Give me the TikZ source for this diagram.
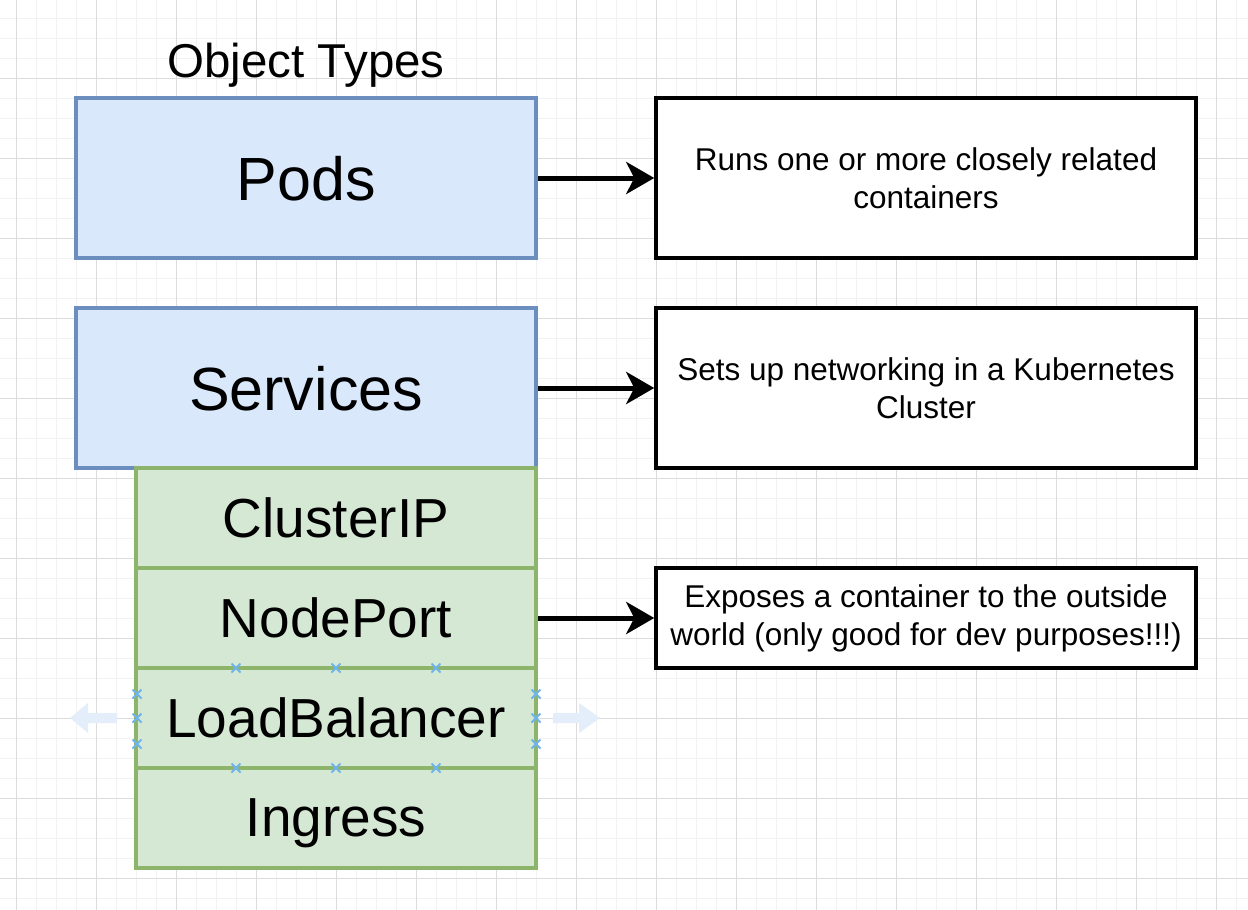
\documentclass[tikz,border=0pt]{standalone}
\usepackage{fontspec}
\setmainfont{Liberation Sans}
\usetikzlibrary{arrows.meta,calc}

\definecolor{gridminor}{HTML}{F2F2F2}
\definecolor{gridmajor}{HTML}{DCDCDC}
\definecolor{bluefill}{HTML}{DAE8FC}
\definecolor{bluestroke}{HTML}{6C8EBF}
\definecolor{greenfill}{HTML}{D5E8D4}
\definecolor{greenstroke}{HTML}{8CB46A}
\definecolor{handle}{HTML}{6FB4EE}
\definecolor{hint}{HTML}{E4EEFA}

\tikzset{
  objbox/.style={draw=bluestroke, fill=bluefill, line width=3.5pt,
    minimum width=460pt, minimum height=160pt, inner sep=0pt,
    text depth=0pt,
    font=\fontsize{61}{70}\selectfont},
  kindbox/.style={draw=greenstroke, fill=greenfill, line width=3.5pt,
    minimum width=400pt, minimum height=100pt, inner sep=0pt,
    text depth=0pt,
    font=\fontsize{55}{64}\selectfont},
  notebox/.style={draw=black, fill=white, line width=3.5pt,
    minimum width=540pt, inner sep=0pt, align=center,
    font=\fontsize{31.5}{38}\selectfont},
  link/.style={draw=black, line width=5pt,
    -{Stealth[length=28pt, width=32pt, inset=8pt]}},
  handlemark/.style={draw=handle, line width=1.8pt},
  hintarrow/.style={fill=hint, draw=none},
}

\newcommand{\handlex}[1]{%
  \draw[handlemark] ($#1+(-4.5pt,-4.5pt)$) -- ($#1+(4.5pt,4.5pt)$)
                    ($#1+(-4.5pt,4.5pt)$) -- ($#1+(4.5pt,-4.5pt)$);}

\begin{document}
\begin{tikzpicture}[x=1pt, y=-1pt]
  \useasboundingbox (0,0) rectangle (1248,910);
  \fill[white] (0,0) rectangle (1248,910);

  % background grid: fine lines every 20, stronger every 80
  \foreach \gx in {-4,16,...,1248} {\draw[gridminor, line width=1pt] (\gx,0) -- (\gx,910);}
  \foreach \gy in {-2,18,...,910} {\draw[gridminor, line width=1pt] (0,\gy) -- (1248,\gy);}
  \foreach \gx in {16,96,...,1248} {\draw[gridmajor, line width=1pt] (\gx,0) -- (\gx,910);}
  \foreach \gy in {78,158,...,910} {\draw[gridmajor, line width=1pt] (0,\gy) -- (1248,\gy);}

  % title
  \node[font=\fontsize{47.5}{54}\selectfont, inner sep=0pt,
        text depth=0pt] (title) at (306,60) {Object Types};

  % object types
  \node[objbox] (pods) at (306,178) {Pods};
  \node[objbox] (services) at (306,388) {Services};

  % service kinds
  \node[kindbox] (clusterip) at (336,518) {ClusterIP};
  \node[kindbox] (nodeport) at (336,618) {NodePort};
  \node[kindbox] (loadbalancer) at (336,718) {LoadBalancer};
  \node[kindbox] (ingress) at (336,818) {Ingress};

  % descriptions
  \node[notebox, minimum height=160pt] (podsnote) at (926,178)
    {Runs one or more closely related\\containers};
  \node[notebox, minimum height=160pt] (servicesnote) at (926,388)
    {Sets up networking in a Kubernetes\\Cluster};
  \node[notebox, minimum height=100pt] (nodeportnote) at (926,618)
    {Exposes a container to the outside\\world (only good for dev purposes!!!)};

  % connectors
  \draw[link] (pods.east) -- (podsnote.west);
  \draw[link] (services.east) -- (servicesnote.west);
  \draw[link] (nodeport.east) -- (nodeportnote.west);

  % selection handles around the LoadBalancer box
  \foreach \hx in {236,336,436} {
    \handlex{(\hx,668)}
    \handlex{(\hx,768)}
  }
  \foreach \hy in {694,718,744} {
    \handlex{(137,\hy)}
    \handlex{(536,\hy)}
  }

  % faint direction hints beside the selected box
  \coordinate (hintleft) at (70,718);
  \coordinate (hintright) at (600,718);
  \fill[hintarrow] (hintleft) -- ++(18,-15) -- ++(0,10) -- ++(29,0) -- ++(0,10)
    -- ++(-29,0) -- ++(0,10) -- cycle;
  \fill[hintarrow] (hintright) -- ++(-21,-15) -- ++(0,10) -- ++(-26,0) -- ++(0,10)
    -- ++(26,0) -- ++(0,10) -- cycle;
\end{tikzpicture}
\end{document}
